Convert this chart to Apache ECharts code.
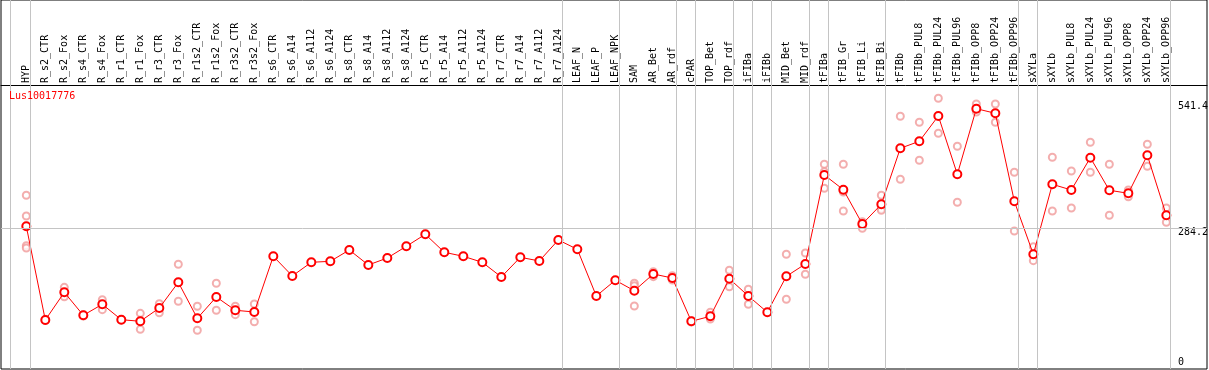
<!DOCTYPE html>
<html>
<head>
<meta charset="utf-8">
<script src="https://cdn.jsdelivr.net/npm/echarts@6/dist/echarts.min.js"></script>
<style>html,body{margin:0;padding:0;background:#fff}#c{width:1209px;height:370px}</style>
</head>
<body>
<div id="c"></div>
<script>
const categories = ["HYP","R_s2_CTR","R_s2_Fox","R_s4_CTR","R_s4_Fox","R_r1_CTR","R_r1_Fox","R_r3_CTR","R_r3_Fox","R_r1s2_CTR","R_r1s2_Fox","R_r3s2_CTR","R_r3s2_Fox","R_s6_CTR","R_s6_A14","R_s6_A112","R_s6_A124","R_s8_CTR","R_s8_A14","R_s8_A112","R_s8_A124","R_r5_CTR","R_r5_A14","R_r5_A112","R_r5_A124","R_r7_CTR","R_r7_A14","R_r7_A112","R_r7_A124","LEAF_N","LEAF_P","LEAF_NPK","SAM","AR_Bet","AR_rdf","cPAR","TOP_Bet","TOP_rdf","iFIBa","iFIBb","MID_Bet","MID_rdf","tFIBa","tFIB_Gr","tFIB_Li","tFIB_Bi","tFIBb","tFIBb_PUL8","tFIBb_PUL24","tFIBb_PUL96","tFIBb_OPP8","tFIBb_OPP24","tFIBb_OPP96","sXYLa","sXYLb","sXYLb_PUL8","sXYLb_PUL24","sXYLb_PUL96","sXYLb_OPP8","sXYLb_OPP24","sXYLb_OPP96"];

const meanValues = [288.2,89.6,148.3,99.6,122.9,90.3,86.9,115.0,169.5,93.2,138.4,110.2,106.6,224.6,182.9,211.9,214.0,238.0,206.2,221.0,245.8,271.2,233.1,224.6,211.9,180.8,222.5,214.7,259.2,239.5,140.5,173.8,151.7,187.1,178.6,86.9,97.5,177.2,140.5,106.0,182.2,208.3,396.9,365.8,293.1,334.8,453.5,468.3,521.9,398.4,537.4,527.6,341.2,228.9,377.2,365.1,433.6,364.5,358.1,438.7,311.5];

const rep1 = [353.9,88.5,158.9,100.5,132.7,90.9,103.8,124.2,207.7,118.7,167.4,118.7,123.5,null,null,null,null,null,null,null,null,null,null,null,null,null,null,null,null,null,null,null,167.4,192.0,183.5,88.0,106.0,195.0,154.7,null,228.9,231.6,419.6,419.6,298.0,353.9,521.3,508.6,559.4,457.7,547.4,547.4,402.6,245.0,434.4,405.4,466.2,419.6,365.1,462.0,327.0];
const rep2 = [310.0,91.0,139.0,98.0,111.5,89.6,69.9,105.1,129.3,67.8,110.2,100.9,86.0,null,null,null,null,null,null,null,null,null,null,null,null,null,null,null,null,null,null,null,162.3,181.4,174.4,85.5,91.8,160.2,122.9,null,133.5,186.5,403.9,360.9,284.0,324.9,387.8,428.1,485.3,339.1,530.4,508.6,278.2,215.3,320.6,327.0,402.6,311.5,350.9,415.3,296.7];
const rep3 = [247.0,null,null,null,null,null,null,null,null,null,null,null,null,null,null,null,null,null,null,null,null,null,null,null,null,null,null,null,null,null,null,null,119.3,null,null,null,null,null,null,null,null,null,368.7,320.6,null,322.1,null,null,null,null,null,null,null,null,null,null,null,null,null,null,null];
const rep4 = [242.2,null,null,null,null,null,null,null,null,null,null,null,null,null,null,null,null,null,null,null,null,null,null,null,null,null,null,null,null,null,null,null,null,null,null,null,null,null,null,null,null,null,null,null,null,null,null,null,null,null,null,null,null,null,null,null,null,null,null,null,null];

const yTickLabels = [0, 284.2, 541.4];
const groupEndIndices = [-1, 0, 28, 31, 34, 35, 37, 38, 39, 41, 42, 45, 52, 53, 60];
const geneName = "Lus10017776";

const FONT = "DejaVu Sans Mono";
const sepLines = groupEndIndices.map(i => ({ xAxis: i === -1 ? -0.84 : i + 0.22 }));
const toPts = arr => arr.map((v, i) => v == null ? null : [i, v]).filter(p => p);
const repSeries = [rep1, rep2, rep3, rep4].map(arr => ({
  type: 'scatter',
  data: toPts(arr),
  symbol: 'emptyCircle',
  symbolSize: 7,
  itemStyle: { color: '#f09a9a', borderColor: '#f09a9a', borderWidth: 1.3 },
  z: 2,
  silent: true
}));

const chart = echarts.init(document.getElementById('c'), null, { renderer: 'canvas' });
chart.setOption({
  animation: false,
  backgroundColor: '#fff',
  title: {
    text: geneName, left: 9, top: 91, padding: 0,
    textStyle: { color: '#ff0000', fontSize: 10, fontFamily: FONT, fontWeight: 'normal' }
  },
  grid: { left: 1, right: 2, top: 0, bottom: 1, show: true, borderColor: '#000', borderWidth: 1, backgroundColor: 'transparent', outerBoundsMode: 'none', containLabel: false },
  xAxis: {
    type: 'value', min: -1.332, max: 62.14, position: 'bottom', offset: -284,
    axisLine: { show: true, onZero: false, lineStyle: { color: '#000', width: 1 } },
    axisTick: { show: false },
    splitLine: { show: false },
    axisLabel: {
      inside: true, rotate: 90, margin: 2,
      customValues: categories.map((c, i) => i),
      formatter: v => categories[Math.round(v)] || '',
      fontFamily: FONT, fontSize: 10, color: '#000'
    }
  },
  yAxis: {
    type: 'value', position: 'right', min: -14.2, max: 767.7,
    axisLine: { show: false }, axisTick: { show: false }, splitLine: { show: false },
    axisLabel: {
      inside: true, margin: 29, align: 'left',
      customValues: yTickLabels,
      formatter: v => (Math.abs(v - 284.2) < 1e-6 ? '{d|284.2}' : String(v)),
      fontFamily: FONT, fontSize: 10, color: '#000',
      rich: { d: { fontFamily: FONT, fontSize: 10, color: '#000', padding: [8, 0, 0, 0] } }
    }
  },
  series: [
    {
      type: 'line', data: [], silent: true, z: 1,
      markLine: {
        silent: true, symbol: 'none', label: { show: false },
        lineStyle: { color: '#c4c4c4', width: 1, type: 'solid' },
        data: sepLines.concat([{ yAxis: 284.2 }])
      }
    },
    ...repSeries,
    {
      type: 'line',
      data: meanValues.map((v, i) => [i, v]),
      symbol: 'emptyCircle', symbolSize: 8,
      lineStyle: { color: '#ff0000', width: 1 },
      itemStyle: { color: '#ff0000', borderColor: '#ff0000', borderWidth: 1.6 },
      z: 4, silent: true
    }
  ]
});
</script>
</body>
</html>
